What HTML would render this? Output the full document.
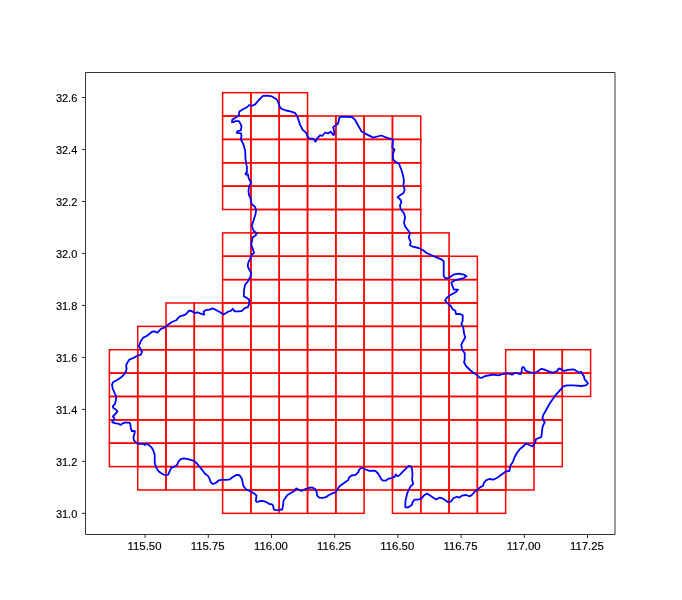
<!DOCTYPE html>
<html><head><meta charset="utf-8"><style>
html,body{margin:0;padding:0;background:#fff;}
svg{display:block;}
text{font-family:"Liberation Sans",sans-serif;font-size:10.6px;fill:#000;}
</style></head><body>
<svg width="682" height="600" viewBox="0 0 682 600">
<rect x="0" y="0" width="682" height="600" fill="#fff"/>
<g fill="none" stroke="#ff0000" stroke-width="1.5">
<rect x="222.62" y="92.66" width="28.306" height="23.371"/>
<rect x="250.93" y="92.66" width="28.306" height="23.371"/>
<rect x="279.24" y="92.66" width="28.306" height="23.371"/>
<rect x="222.62" y="116.03" width="28.306" height="23.371"/>
<rect x="250.93" y="116.03" width="28.306" height="23.371"/>
<rect x="279.24" y="116.03" width="28.306" height="23.371"/>
<rect x="307.54" y="116.03" width="28.306" height="23.371"/>
<rect x="335.85" y="116.03" width="28.306" height="23.371"/>
<rect x="364.15" y="116.03" width="28.306" height="23.371"/>
<rect x="392.46" y="116.03" width="28.306" height="23.371"/>
<rect x="222.62" y="139.40" width="28.306" height="23.371"/>
<rect x="250.93" y="139.40" width="28.306" height="23.371"/>
<rect x="279.24" y="139.40" width="28.306" height="23.371"/>
<rect x="307.54" y="139.40" width="28.306" height="23.371"/>
<rect x="335.85" y="139.40" width="28.306" height="23.371"/>
<rect x="364.15" y="139.40" width="28.306" height="23.371"/>
<rect x="392.46" y="139.40" width="28.306" height="23.371"/>
<rect x="222.62" y="162.77" width="28.306" height="23.371"/>
<rect x="250.93" y="162.77" width="28.306" height="23.371"/>
<rect x="279.24" y="162.77" width="28.306" height="23.371"/>
<rect x="307.54" y="162.77" width="28.306" height="23.371"/>
<rect x="335.85" y="162.77" width="28.306" height="23.371"/>
<rect x="364.15" y="162.77" width="28.306" height="23.371"/>
<rect x="392.46" y="162.77" width="28.306" height="23.371"/>
<rect x="222.62" y="186.14" width="28.306" height="23.371"/>
<rect x="250.93" y="186.14" width="28.306" height="23.371"/>
<rect x="279.24" y="186.14" width="28.306" height="23.371"/>
<rect x="307.54" y="186.14" width="28.306" height="23.371"/>
<rect x="335.85" y="186.14" width="28.306" height="23.371"/>
<rect x="364.15" y="186.14" width="28.306" height="23.371"/>
<rect x="392.46" y="186.14" width="28.306" height="23.371"/>
<rect x="250.93" y="209.51" width="28.306" height="23.371"/>
<rect x="279.24" y="209.51" width="28.306" height="23.371"/>
<rect x="307.54" y="209.51" width="28.306" height="23.371"/>
<rect x="335.85" y="209.51" width="28.306" height="23.371"/>
<rect x="364.15" y="209.51" width="28.306" height="23.371"/>
<rect x="392.46" y="209.51" width="28.306" height="23.371"/>
<rect x="222.62" y="232.89" width="28.306" height="23.371"/>
<rect x="250.93" y="232.89" width="28.306" height="23.371"/>
<rect x="279.24" y="232.89" width="28.306" height="23.371"/>
<rect x="307.54" y="232.89" width="28.306" height="23.371"/>
<rect x="335.85" y="232.89" width="28.306" height="23.371"/>
<rect x="364.15" y="232.89" width="28.306" height="23.371"/>
<rect x="392.46" y="232.89" width="28.306" height="23.371"/>
<rect x="420.77" y="232.89" width="28.306" height="23.371"/>
<rect x="222.62" y="256.26" width="28.306" height="23.371"/>
<rect x="250.93" y="256.26" width="28.306" height="23.371"/>
<rect x="279.24" y="256.26" width="28.306" height="23.371"/>
<rect x="307.54" y="256.26" width="28.306" height="23.371"/>
<rect x="335.85" y="256.26" width="28.306" height="23.371"/>
<rect x="364.15" y="256.26" width="28.306" height="23.371"/>
<rect x="392.46" y="256.26" width="28.306" height="23.371"/>
<rect x="420.77" y="256.26" width="28.306" height="23.371"/>
<rect x="449.07" y="256.26" width="28.306" height="23.371"/>
<rect x="222.62" y="279.63" width="28.306" height="23.371"/>
<rect x="250.93" y="279.63" width="28.306" height="23.371"/>
<rect x="279.24" y="279.63" width="28.306" height="23.371"/>
<rect x="307.54" y="279.63" width="28.306" height="23.371"/>
<rect x="335.85" y="279.63" width="28.306" height="23.371"/>
<rect x="364.15" y="279.63" width="28.306" height="23.371"/>
<rect x="392.46" y="279.63" width="28.306" height="23.371"/>
<rect x="420.77" y="279.63" width="28.306" height="23.371"/>
<rect x="449.07" y="279.63" width="28.306" height="23.371"/>
<rect x="166.01" y="303.00" width="28.306" height="23.371"/>
<rect x="194.32" y="303.00" width="28.306" height="23.371"/>
<rect x="222.62" y="303.00" width="28.306" height="23.371"/>
<rect x="250.93" y="303.00" width="28.306" height="23.371"/>
<rect x="279.24" y="303.00" width="28.306" height="23.371"/>
<rect x="307.54" y="303.00" width="28.306" height="23.371"/>
<rect x="335.85" y="303.00" width="28.306" height="23.371"/>
<rect x="364.15" y="303.00" width="28.306" height="23.371"/>
<rect x="392.46" y="303.00" width="28.306" height="23.371"/>
<rect x="420.77" y="303.00" width="28.306" height="23.371"/>
<rect x="449.07" y="303.00" width="28.306" height="23.371"/>
<rect x="137.71" y="326.37" width="28.306" height="23.371"/>
<rect x="166.01" y="326.37" width="28.306" height="23.371"/>
<rect x="194.32" y="326.37" width="28.306" height="23.371"/>
<rect x="222.62" y="326.37" width="28.306" height="23.371"/>
<rect x="250.93" y="326.37" width="28.306" height="23.371"/>
<rect x="279.24" y="326.37" width="28.306" height="23.371"/>
<rect x="307.54" y="326.37" width="28.306" height="23.371"/>
<rect x="335.85" y="326.37" width="28.306" height="23.371"/>
<rect x="364.15" y="326.37" width="28.306" height="23.371"/>
<rect x="392.46" y="326.37" width="28.306" height="23.371"/>
<rect x="420.77" y="326.37" width="28.306" height="23.371"/>
<rect x="449.07" y="326.37" width="28.306" height="23.371"/>
<rect x="109.40" y="349.74" width="28.306" height="23.371"/>
<rect x="137.71" y="349.74" width="28.306" height="23.371"/>
<rect x="166.01" y="349.74" width="28.306" height="23.371"/>
<rect x="194.32" y="349.74" width="28.306" height="23.371"/>
<rect x="222.62" y="349.74" width="28.306" height="23.371"/>
<rect x="250.93" y="349.74" width="28.306" height="23.371"/>
<rect x="279.24" y="349.74" width="28.306" height="23.371"/>
<rect x="307.54" y="349.74" width="28.306" height="23.371"/>
<rect x="335.85" y="349.74" width="28.306" height="23.371"/>
<rect x="364.15" y="349.74" width="28.306" height="23.371"/>
<rect x="392.46" y="349.74" width="28.306" height="23.371"/>
<rect x="420.77" y="349.74" width="28.306" height="23.371"/>
<rect x="449.07" y="349.74" width="28.306" height="23.371"/>
<rect x="505.68" y="349.74" width="28.306" height="23.371"/>
<rect x="533.99" y="349.74" width="28.306" height="23.371"/>
<rect x="562.30" y="349.74" width="28.306" height="23.371"/>
<rect x="109.40" y="373.11" width="28.306" height="23.371"/>
<rect x="137.71" y="373.11" width="28.306" height="23.371"/>
<rect x="166.01" y="373.11" width="28.306" height="23.371"/>
<rect x="194.32" y="373.11" width="28.306" height="23.371"/>
<rect x="222.62" y="373.11" width="28.306" height="23.371"/>
<rect x="250.93" y="373.11" width="28.306" height="23.371"/>
<rect x="279.24" y="373.11" width="28.306" height="23.371"/>
<rect x="307.54" y="373.11" width="28.306" height="23.371"/>
<rect x="335.85" y="373.11" width="28.306" height="23.371"/>
<rect x="364.15" y="373.11" width="28.306" height="23.371"/>
<rect x="392.46" y="373.11" width="28.306" height="23.371"/>
<rect x="420.77" y="373.11" width="28.306" height="23.371"/>
<rect x="449.07" y="373.11" width="28.306" height="23.371"/>
<rect x="477.38" y="373.11" width="28.306" height="23.371"/>
<rect x="505.68" y="373.11" width="28.306" height="23.371"/>
<rect x="533.99" y="373.11" width="28.306" height="23.371"/>
<rect x="562.30" y="373.11" width="28.306" height="23.371"/>
<rect x="109.40" y="396.48" width="28.306" height="23.371"/>
<rect x="137.71" y="396.48" width="28.306" height="23.371"/>
<rect x="166.01" y="396.48" width="28.306" height="23.371"/>
<rect x="194.32" y="396.48" width="28.306" height="23.371"/>
<rect x="222.62" y="396.48" width="28.306" height="23.371"/>
<rect x="250.93" y="396.48" width="28.306" height="23.371"/>
<rect x="279.24" y="396.48" width="28.306" height="23.371"/>
<rect x="307.54" y="396.48" width="28.306" height="23.371"/>
<rect x="335.85" y="396.48" width="28.306" height="23.371"/>
<rect x="364.15" y="396.48" width="28.306" height="23.371"/>
<rect x="392.46" y="396.48" width="28.306" height="23.371"/>
<rect x="420.77" y="396.48" width="28.306" height="23.371"/>
<rect x="449.07" y="396.48" width="28.306" height="23.371"/>
<rect x="477.38" y="396.48" width="28.306" height="23.371"/>
<rect x="505.68" y="396.48" width="28.306" height="23.371"/>
<rect x="533.99" y="396.48" width="28.306" height="23.371"/>
<rect x="109.40" y="419.85" width="28.306" height="23.371"/>
<rect x="137.71" y="419.85" width="28.306" height="23.371"/>
<rect x="166.01" y="419.85" width="28.306" height="23.371"/>
<rect x="194.32" y="419.85" width="28.306" height="23.371"/>
<rect x="222.62" y="419.85" width="28.306" height="23.371"/>
<rect x="250.93" y="419.85" width="28.306" height="23.371"/>
<rect x="279.24" y="419.85" width="28.306" height="23.371"/>
<rect x="307.54" y="419.85" width="28.306" height="23.371"/>
<rect x="335.85" y="419.85" width="28.306" height="23.371"/>
<rect x="364.15" y="419.85" width="28.306" height="23.371"/>
<rect x="392.46" y="419.85" width="28.306" height="23.371"/>
<rect x="420.77" y="419.85" width="28.306" height="23.371"/>
<rect x="449.07" y="419.85" width="28.306" height="23.371"/>
<rect x="477.38" y="419.85" width="28.306" height="23.371"/>
<rect x="505.68" y="419.85" width="28.306" height="23.371"/>
<rect x="533.99" y="419.85" width="28.306" height="23.371"/>
<rect x="109.40" y="443.23" width="28.306" height="23.371"/>
<rect x="137.71" y="443.23" width="28.306" height="23.371"/>
<rect x="166.01" y="443.23" width="28.306" height="23.371"/>
<rect x="194.32" y="443.23" width="28.306" height="23.371"/>
<rect x="222.62" y="443.23" width="28.306" height="23.371"/>
<rect x="250.93" y="443.23" width="28.306" height="23.371"/>
<rect x="279.24" y="443.23" width="28.306" height="23.371"/>
<rect x="307.54" y="443.23" width="28.306" height="23.371"/>
<rect x="335.85" y="443.23" width="28.306" height="23.371"/>
<rect x="364.15" y="443.23" width="28.306" height="23.371"/>
<rect x="392.46" y="443.23" width="28.306" height="23.371"/>
<rect x="420.77" y="443.23" width="28.306" height="23.371"/>
<rect x="449.07" y="443.23" width="28.306" height="23.371"/>
<rect x="477.38" y="443.23" width="28.306" height="23.371"/>
<rect x="505.68" y="443.23" width="28.306" height="23.371"/>
<rect x="533.99" y="443.23" width="28.306" height="23.371"/>
<rect x="137.71" y="466.60" width="28.306" height="23.371"/>
<rect x="166.01" y="466.60" width="28.306" height="23.371"/>
<rect x="194.32" y="466.60" width="28.306" height="23.371"/>
<rect x="222.62" y="466.60" width="28.306" height="23.371"/>
<rect x="250.93" y="466.60" width="28.306" height="23.371"/>
<rect x="279.24" y="466.60" width="28.306" height="23.371"/>
<rect x="307.54" y="466.60" width="28.306" height="23.371"/>
<rect x="335.85" y="466.60" width="28.306" height="23.371"/>
<rect x="364.15" y="466.60" width="28.306" height="23.371"/>
<rect x="392.46" y="466.60" width="28.306" height="23.371"/>
<rect x="420.77" y="466.60" width="28.306" height="23.371"/>
<rect x="449.07" y="466.60" width="28.306" height="23.371"/>
<rect x="477.38" y="466.60" width="28.306" height="23.371"/>
<rect x="505.68" y="466.60" width="28.306" height="23.371"/>
<rect x="222.62" y="489.97" width="28.306" height="23.371"/>
<rect x="250.93" y="489.97" width="28.306" height="23.371"/>
<rect x="279.24" y="489.97" width="28.306" height="23.371"/>
<rect x="307.54" y="489.97" width="28.306" height="23.371"/>
<rect x="335.85" y="489.97" width="28.306" height="23.371"/>
<rect x="392.46" y="489.97" width="28.306" height="23.371"/>
<rect x="420.77" y="489.97" width="28.306" height="23.371"/>
<rect x="449.07" y="489.97" width="28.306" height="23.371"/>
<rect x="477.38" y="489.97" width="28.306" height="23.371"/>
</g>
<polyline fill="none" stroke="#0000ff" stroke-width="1.8" stroke-linejoin="round" stroke-linecap="round" points="246.4,165.1 245.5,158.9 245.2,151.0 243.8,145.7 242.0,141.3 240.8,139.5 241.5,136.0 241.1,133.4 236.7,132.9 237.6,131.1 240.8,130.4 241.6,126.4 240.2,123.4 239.0,121.1 235.8,121.1 232.0,122.3 232.3,119.8 235.8,117.6 238.8,115.8 239.4,111.4 243.8,108.8 247.3,107.0 249.0,105.2 252.0,105.8 255.2,104.4 258.7,100.0 263.1,95.9 267.5,95.6 271.9,96.4 276.3,99.1 278.1,101.7 279.8,107.0 281.6,108.8 286.0,110.5 291.3,111.7 295.3,113.2 297.4,116.7 300.0,124.6 302.7,129.9 306.2,132.9 308.0,137.4 309.7,138.7 313.3,138.7 315.5,141.7 317.7,137.8 320.3,135.2 322.1,136.0 325.2,132.5 328.2,133.4 330.5,131.6 332.2,133.6 333.7,135.1 334.4,132.9 333.2,127.0 336.6,124.8 338.1,123.3 339.5,117.5 341.0,116.7 352.0,117.0 354.9,119.7 358.6,126.3 361.5,131.4 365.2,133.6 373.3,137.6 381.3,135.5 386.5,137.6 393.0,139.5 392.3,147.5 394.5,149.7 393.0,153.4 393.0,159.3 395.2,161.5 398.9,163.7 401.8,171.0 403.3,176.8 404.0,181.2 403.3,185.3 404.7,190.0 403.3,193.3 400.0,195.3 397.6,197.1 400.7,200.0 401.3,202.0 400.0,205.3 400.7,209.3 404.0,213.3 405.1,217.3 404.0,222.7 405.3,226.7 408.7,231.3 410.0,233.3 408.7,237.3 410.7,242.0 410.0,245.3 412.7,246.7 418.7,248.0 422.7,250.0 426.7,253.0 434.7,256.7 441.3,259.3 443.7,261.3 443.7,268.7 443.7,276.0 445.3,278.3 448.7,278.0 453.3,274.7 458.7,273.7 464.0,274.7 466.4,276.0 464.0,278.0 458.7,279.3 454.0,280.7 451.3,282.7 452.7,286.7 454.0,289.7 458.0,289.7 456.0,292.0 450.0,295.3 446.7,298.0 445.0,300.4 446.7,302.3 450.7,306.0 452.7,309.3 455.3,310.7 456.0,314.0 460.0,314.0 462.7,315.3 462.7,320.7 461.3,324.0 463.3,327.3 464.0,333.3 465.3,337.3 463.3,340.7 461.3,344.7 462.0,349.3 464.7,353.3 464.7,360.0 464.0,362.0 466.0,366.0 470.0,370.0 473.3,372.7 476.7,374.7 479.3,377.3 481.3,378.0 485.3,376.0 493.3,374.7 498.7,375.3 502.7,374.0 506.7,373.3 510.7,374.0 512.0,374.8 515.3,372.8 517.9,373.5 520.6,374.1 521.6,371.5 521.9,368.2 523.2,366.9 524.5,368.2 525.2,370.2 529.1,372.2 533.8,373.2 537.7,371.5 541.0,368.9 544.3,369.5 549.6,371.9 552.9,372.6 556.2,371.5 557.8,370.6 558.2,368.9 560.1,368.5 562.1,370.2 564.1,370.8 568.1,369.8 573.3,369.3 577.3,371.5 579.3,372.8 581.3,371.9 582.8,374.8 583.9,376.1 584.6,379.4 587.2,382.1 587.9,383.4 585.9,385.4 581.3,386.0 573.3,385.4 566.7,385.4 562.8,386.7 560.8,389.3 554.9,395.9 549.6,403.8 546.0,410.3 543.3,415.0 542.4,418.3 544.7,422.3 542.7,426.3 542.0,431.7 541.3,437.0 538.7,438.1 536.0,439.0 535.3,442.3 532.7,446.3 529.3,445.0 526.0,443.4 523.3,446.3 520.0,449.0 517.3,452.3 514.7,457.0 512.7,462.3 510.7,465.0 510.0,467.7 509.3,471.0 506.0,471.4 504.7,472.3 502.0,474.3 497.3,477.7 493.3,479.7 489.3,479.0 486.0,480.3 483.8,483.1 483.1,485.7 480.5,487.1 477.2,489.7 474.6,491.7 471.9,495.0 469.9,496.3 466.0,495.0 462.0,495.6 459.4,497.6 456.7,496.7 453.4,498.3 450.8,501.6 448.2,502.2 444.2,499.6 442.2,498.3 439.6,497.6 436.3,499.6 433.0,497.6 427.1,493.6 423.8,495.6 421.1,498.9 417.8,499.6 414.5,499.6 412.5,502.2 411.9,504.9 407.9,507.5 405.3,507.2 405.5,500.9 407.3,493.0 410.6,486.4 413.2,483.8 412.1,479.8 412.5,474.5 412.1,469.2 411.2,466.6 408.6,465.9 405.9,468.6 402.6,471.9 399.2,475.5 397.2,476.1 395.9,474.5 394.6,476.8 391.3,478.1 388.0,478.8 386.0,480.7 383.3,480.7 381.4,479.4 380.0,476.8 378.1,473.5 375.4,470.8 372.8,470.6 369.5,470.8 365.5,469.5 362.9,467.9 360.9,468.2 358.9,470.2 358.3,472.2 355.6,474.8 351.7,475.5 349.0,477.4 348.4,480.1 344.4,482.7 339.8,486.0 337.8,488.6 335.8,492.0 332.5,493.3 328.6,495.2 325.9,497.2 322.6,497.9 319.2,497.6 317.2,495.6 316.5,491.7 315.2,489.0 311.9,487.4 308.6,488.0 304.7,489.3 301.4,491.0 298.1,489.3 296.1,488.4 294.4,491.0 290.8,493.0 287.5,495.0 285.5,497.6 283.5,500.9 282.9,506.2 282.2,509.5 279.6,509.9 275.0,510.1 273.7,508.8 273.0,505.5 271.7,504.2 269.7,504.2 267.1,502.5 263.8,501.2 260.5,500.9 257.2,502.0 255.8,500.9 256.5,495.6 255.2,494.3 251.9,492.3 248.6,490.4 245.9,489.3 243.3,485.7 242.4,481.1 241.6,478.1 239.4,475.2 236.5,474.9 232.8,477.0 229.9,479.3 226.2,479.9 222.6,479.6 218.9,480.3 216.0,482.8 213.0,484.0 210.9,482.5 209.4,478.4 207.9,475.9 205.0,473.7 202.8,470.8 200.6,467.9 196.9,463.5 194.0,460.8 188.9,459.4 183.7,458.3 180.8,459.1 178.6,461.3 177.1,464.9 174.9,466.4 171.3,467.9 169.8,470.8 168.3,474.5 166.1,475.5 162.5,474.0 158.8,471.5 155.9,467.1 154.7,462.7 154.7,454.7 153.2,450.3 151.5,447.3 148.8,444.9 146.7,443.4 145.2,444.9 143.1,443.9 140.5,443.9 138.0,443.9 135.9,442.3 133.9,440.3 133.4,437.2 134.4,434.1 134.9,431.1 133.4,430.8 131.8,431.1 130.8,428.0 130.3,423.9 129.3,422.6 126.7,422.6 124.6,422.6 122.6,423.4 120.5,424.9 119.0,423.9 115.9,423.4 112.3,422.3 112.3,421.3 114.4,419.8 114.2,417.7 112.8,416.5 114.9,414.4 117.4,411.6 115.9,409.5 113.3,408.0 112.8,406.4 114.9,403.9 115.9,400.3 116.2,396.2 114.9,393.6 112.7,388.7 112.0,384.7 113.3,382.0 116.7,380.3 121.3,377.3 124.0,374.4 126.0,371.3 126.7,368.0 126.0,366.0 127.3,362.7 129.3,359.7 133.3,358.0 137.3,355.7 140.7,354.9 142.0,352.0 140.0,348.0 138.7,346.0 140.0,343.3 140.7,341.3 143.3,337.6 146.7,336.0 149.3,334.0 152.0,331.7 154.7,331.3 157.3,332.7 159.3,330.7 161.3,328.7 165.3,327.3 168.0,324.7 172.0,322.0 176.7,320.0 177.3,318.9 179.9,316.3 183.2,315.4 185.8,314.3 189.1,310.6 191.8,311.0 194.4,313.0 197.7,312.3 201.7,314.0 204.3,314.6 203.6,311.7 205.6,310.1 209.6,309.7 212.2,308.4 215.5,309.7 220.1,312.3 223.4,314.6 226.1,313.0 228.7,311.3 230.7,311.0 232.7,308.8 234.7,311.4 238.6,311.3 241.9,311.0 244.6,308.1 247.9,307.1 249.2,303.8 249.2,299.8 246.5,297.6 243.9,296.5 243.9,290.6 245.2,284.6 248.4,280.7 250.5,276.5 251.2,272.9 249.1,269.4 247.7,265.9 248.4,262.3 250.5,258.1 251.9,254.5 254.0,253.1 253.3,250.3 251.9,246.7 251.2,244.6 251.9,241.1 252.6,237.5 255.5,235.4 256.9,233.3 254.0,231.2 252.6,228.3 251.9,225.5 253.3,221.2 255.5,214.2 256.2,209.9 254.7,206.4 252.0,204.5 251.0,201.5 250.5,198.0 249.0,195.0 248.5,191.0 249.0,187.0 250.0,184.5 251.2,182.5 249.5,180.0 248.5,177.5 248.0,174.5 246.0,174.5 245.5,173.5 247.0,172.0 246.8,170.0 247.0,166.5"/>
<g fill="none" stroke="#000" stroke-width="0.8">
<line x1="85.5" y1="72.5" x2="85.5" y2="534.5"/>
<line x1="615.0" y1="72.5" x2="615.0" y2="534.5"/>
<line x1="85.5" y1="72.5" x2="615.0" y2="72.5"/>
<line x1="85.5" y1="534.5" x2="615.0" y2="534.5"/>
<line x1="145.10" y1="534.5" x2="145.10" y2="538.0"/>
<line x1="208.30" y1="534.5" x2="208.30" y2="538.0"/>
<line x1="271.50" y1="534.5" x2="271.50" y2="538.0"/>
<line x1="334.70" y1="534.5" x2="334.70" y2="538.0"/>
<line x1="397.90" y1="534.5" x2="397.90" y2="538.0"/>
<line x1="461.10" y1="534.5" x2="461.10" y2="538.0"/>
<line x1="524.30" y1="534.5" x2="524.30" y2="538.0"/>
<line x1="587.50" y1="534.5" x2="587.50" y2="538.0"/>
<line x1="82.0" y1="513.40" x2="85.5" y2="513.40"/>
<line x1="82.0" y1="461.41" x2="85.5" y2="461.41"/>
<line x1="82.0" y1="409.42" x2="85.5" y2="409.42"/>
<line x1="82.0" y1="357.44" x2="85.5" y2="357.44"/>
<line x1="82.0" y1="305.45" x2="85.5" y2="305.45"/>
<line x1="82.0" y1="253.46" x2="85.5" y2="253.46"/>
<line x1="82.0" y1="201.47" x2="85.5" y2="201.47"/>
<line x1="82.0" y1="149.48" x2="85.5" y2="149.48"/>
<line x1="82.0" y1="97.50" x2="85.5" y2="97.50"/>
</g>
<g style="will-change:transform" stroke="#000" stroke-width="0.15">
<text x="144.50" y="549.9" text-anchor="middle" textLength="34.0" lengthAdjust="spacingAndGlyphs">115.50</text>
<text x="207.70" y="549.9" text-anchor="middle" textLength="34.0" lengthAdjust="spacingAndGlyphs">115.75</text>
<text x="270.90" y="549.9" text-anchor="middle" textLength="34.0" lengthAdjust="spacingAndGlyphs">116.00</text>
<text x="334.10" y="549.9" text-anchor="middle" textLength="34.0" lengthAdjust="spacingAndGlyphs">116.25</text>
<text x="397.30" y="549.9" text-anchor="middle" textLength="34.0" lengthAdjust="spacingAndGlyphs">116.50</text>
<text x="460.50" y="549.9" text-anchor="middle" textLength="34.0" lengthAdjust="spacingAndGlyphs">116.75</text>
<text x="523.70" y="549.9" text-anchor="middle" textLength="34.0" lengthAdjust="spacingAndGlyphs">117.00</text>
<text x="586.90" y="549.9" text-anchor="middle" textLength="34.0" lengthAdjust="spacingAndGlyphs">117.25</text>
<text x="77.3" y="517.70" text-anchor="end" textLength="21.4" lengthAdjust="spacingAndGlyphs">31.0</text>
<text x="77.3" y="465.71" text-anchor="end" textLength="21.4" lengthAdjust="spacingAndGlyphs">31.2</text>
<text x="77.3" y="413.72" text-anchor="end" textLength="21.4" lengthAdjust="spacingAndGlyphs">31.4</text>
<text x="77.3" y="361.74" text-anchor="end" textLength="21.4" lengthAdjust="spacingAndGlyphs">31.6</text>
<text x="77.3" y="309.75" text-anchor="end" textLength="21.4" lengthAdjust="spacingAndGlyphs">31.8</text>
<text x="77.3" y="257.76" text-anchor="end" textLength="21.4" lengthAdjust="spacingAndGlyphs">32.0</text>
<text x="77.3" y="205.77" text-anchor="end" textLength="21.4" lengthAdjust="spacingAndGlyphs">32.2</text>
<text x="77.3" y="153.78" text-anchor="end" textLength="21.4" lengthAdjust="spacingAndGlyphs">32.4</text>
<text x="77.3" y="101.80" text-anchor="end" textLength="21.4" lengthAdjust="spacingAndGlyphs">32.6</text>
</g>
</svg>
</body></html>
